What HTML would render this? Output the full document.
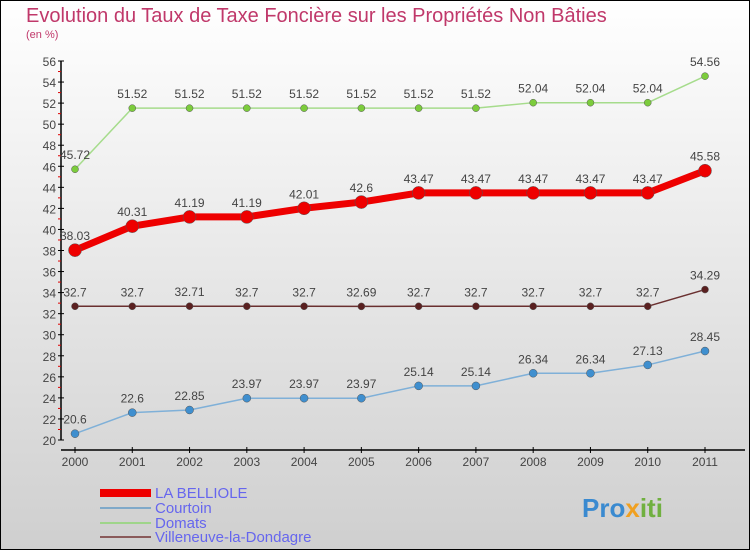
<!DOCTYPE html>
<html><head><meta charset="utf-8"><style>
body{margin:0;width:750px;height:550px;overflow:hidden}
svg{display:block;font-family:"Liberation Sans",sans-serif}
</style></head><body>
<svg id="c" width="750" height="550" xmlns="http://www.w3.org/2000/svg">
<defs><linearGradient id="bg" x1="0" y1="0" x2="0" y2="1"><stop offset="0" stop-color="#ffffff"/><stop offset="1" stop-color="#cfcfcf"/></linearGradient></defs>
<rect x="0.5" y="0.5" width="749" height="549" fill="url(#bg)" stroke="#000"/>
<text x="26" y="22" font-size="20" fill="#c0386a">Evolution du Taux de Taxe Foncière sur les Propriétés Non Bâties</text>
<text x="26" y="38" font-size="11" fill="#c0386a">(en %)</text>
<g id="axes"></g><g id="series"></g>
<g>
<rect x="100" y="489" width="51" height="8" fill="#e00"/>
<text x="155" y="498" font-size="15" fill="#6666ee">LA BELLIOLE</text>
<rect x="100" y="507" width="51" height="2" fill="#7fa9c9"/>
<text x="155" y="513" font-size="15" fill="#6666ee">Courtoin</text>
<rect x="100" y="522" width="51" height="2" fill="#9fd58a"/>
<text x="155" y="528" font-size="15" fill="#6666ee">Domats</text>
<rect x="100" y="536" width="51" height="2" fill="#8a5a5a"/>
<text x="155" y="542" font-size="15" fill="#6666ee">Villeneuve-la-Dondagre</text>
</g>
<text x="582" y="517" font-size="26" font-weight="bold" fill="#3a8ad0">Pro<tspan fill="#f0a020">x</tspan><tspan fill="#70b040">iti</tspan></text>
</svg>
<script>
const years=[2000,2001,2002,2003,2004,2005,2006,2007,2008,2009,2010,2011];
const yTicks=[20,22,24,26,28,30,32,34,36,38,40,42,44,46,48,50,52,54,56];
const belliole=[38.03,40.31,41.19,41.19,42.01,42.6,43.47,43.47,43.47,43.47,43.47,45.58];
const bellioleLbl=["38.03","40.31","41.19","41.19","42.01","42.6","43.47","43.47","43.47","43.47","43.47","45.58"];
const courtoin=[20.6,22.6,22.85,23.97,23.97,23.97,25.14,25.14,26.34,26.34,27.13,28.45];
const courtoinLbl=["20.6","22.6","22.85","23.97","23.97","23.97","25.14","25.14","26.34","26.34","27.13","28.45"];
const domats=[45.72,51.52,51.52,51.52,51.52,51.52,51.52,51.52,52.04,52.04,52.04,54.56];
const domatsLbl=["45.72","51.52","51.52","51.52","51.52","51.52","51.52","51.52","52.04","52.04","52.04","54.56"];
const villeneuve=[32.7,32.7,32.71,32.7,32.7,32.69,32.7,32.7,32.7,32.7,32.7,34.29];
const villeneuveLbl=["32.7","32.7","32.71","32.7","32.7","32.69","32.7","32.7","32.7","32.7","32.7","34.29"];
const NS="http://www.w3.org/2000/svg";
const X=i=>75+i*(630/11);
const Y=v=>440-(v-20)*(379/36);
function mk(t,a,p){const e=document.createElementNS(NS,t);for(const k in a)e.setAttribute(k,a[k]);p.appendChild(e);return e;}
const ax=document.getElementById('axes');
let l=mk('line',{x1:61,y1:Y(56),x2:61,y2:Y(20),stroke:'#000','stroke-width':1.5},ax);


l=mk('line',{x1:61,y1:450,x2:745,y2:450,stroke:'#000','stroke-width':1.5},ax);


yTicks.forEach((v,i)=>{
 mk('line',{x1:58,x2:64,y1:Y(v),y2:Y(v),stroke:'#000'},ax);
 if(i<yTicks.length-1)mk('line',{x1:58,x2:61,y1:Y(v+1),y2:Y(v+1),stroke:'#d00'},ax);
 const t=mk('text',{x:56,y:Y(v)+5,'text-anchor':'end','font-size':12,fill:'#444'},ax);t.textContent=v;
 
 
});
years.forEach((y,i)=>{
 mk('line',{x1:X(i),x2:X(i),y1:447,y2:453,stroke:'#000'},ax);
 const t=mk('text',{x:X(i),y:466,'text-anchor':'middle','font-size':12,fill:'#444'},ax);t.textContent=y;
 
 
});
const sg=document.getElementById('series');
function series(vals,lbls,color,dot,w,r,name,fs){
 const g=mk('g',{},sg);
 
 
 const p=mk('polyline',{points:vals.map((v,i)=>X(i)+','+Y(v)).join(' '),fill:'none',stroke:color,'stroke-width':w,'stroke-linejoin':'round'},g);
 
 
 vals.forEach((v,i)=>{
  const c=mk('circle',{cx:X(i),cy:Y(v),r:r,fill:dot,stroke:'#555','stroke-width':0.5},g);
  
  
  const t=mk('text',{x:X(i),y:Y(v)-10,'text-anchor':'middle','font-size':fs,fill:'#444'},g);t.textContent=lbls[i];
  
  
 });
}
series(domats,domatsLbl,'#a6dc8c','#7ccc3c',1.5,3.5,'domats',12);
series(villeneuve,villeneuveLbl,'#6a3030','#5a2020',1.5,3.5,'villeneuve',12);
series(courtoin,courtoinLbl,'#7fb0d8','#3f8fcf',1.5,4,'courtoin',12);
series(belliole,bellioleLbl,'#ee0000','#ee0000',7,6.5,'la-belliole',12);
</script>
</body></html>
